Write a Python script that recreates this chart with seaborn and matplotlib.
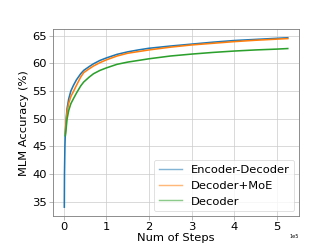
import numpy as np
import pandas as pd
import seaborn as sns
import matplotlib
matplotlib.use("Agg")
import matplotlib.pyplot as plt

# steps (x1e5) and accuracy values
steps_ed = [0.016, 0.02, 0.03, 0.04, 0.06, 0.08, 0.12, 0.17, 0.23, 0.3, 0.4, 0.47, 0.6, 0.7, 0.85, 1.0, 1.25, 1.5, 1.75, 2.0, 2.5, 3.0, 3.5, 4.0, 4.5, 5.0, 5.25]
acc_ed = [34.0, 40.0, 45.0, 47.5, 50.0, 51.8, 53.6, 55.0, 56.0, 57.0, 58.1, 58.7, 59.4, 59.9, 60.5, 60.95, 61.6, 62.05, 62.4, 62.7, 63.1, 63.45, 63.8, 64.1, 64.3, 64.5, 64.6]

steps_moe = [0.04, 0.06, 0.08, 0.12, 0.17, 0.23, 0.3, 0.4, 0.47, 0.6, 0.7, 0.85, 1.0, 1.25, 1.5, 1.75, 2.0, 2.5, 3.0, 3.5, 4.0, 4.5, 5.0, 5.25]
acc_moe = [47.3, 49.6, 51.2, 52.8, 54.0, 54.9, 56.0, 57.5, 58.3, 59.0, 59.5, 60.1, 60.6, 61.3, 61.8, 62.1, 62.4, 62.9, 63.3, 63.6, 63.9, 64.15, 64.35, 64.45]

steps_dec = [0.04, 0.06, 0.08, 0.12, 0.17, 0.23, 0.3, 0.4, 0.47, 0.6, 0.7, 0.85, 1.0, 1.25, 1.5, 1.75, 2.0, 2.5, 3.0, 3.5, 4.0, 4.5, 5.0, 5.25]
acc_dec = [46.9, 48.3, 49.9, 51.5, 52.7, 53.6, 54.6, 55.9, 56.6, 57.5, 58.1, 58.7, 59.15, 59.8, 60.2, 60.5, 60.8, 61.3, 61.65, 61.95, 62.2, 62.4, 62.55, 62.65]

labels = ["Encoder-Decoder", "Decoder+MoE", "Decoder"]
colors = ["#1f77b4", "#ff7f0e", "#2ca02c"]

frames = []
for lab, s, a in [(labels[0], steps_ed, acc_ed), (labels[1], steps_moe, acc_moe), (labels[2], steps_dec, acc_dec)]:
    frames.append(pd.DataFrame({"step": np.array(s) * 1e5, "acc": a, "model": lab}))
df = pd.concat(frames, ignore_index=True)

plt.rcParams["font.family"] = ["DejaVu Sans"]

fig = plt.figure(figsize=(6.4, 4.8), dpi=51.9)
ax = fig.add_axes([0.16, 0.134, 0.74, 0.748])
sns.lineplot(data=df, x="step", y="acc", hue="model", hue_order=labels,
             palette=colors, linewidth=2.2, ax=ax, estimator=None, sort=True)

FS = 16
ax.set_xlabel("Num of Steps", fontsize=FS, labelpad=2)
ax.set_ylabel("MLM Accuracy (%)", fontsize=FS, labelpad=4)
ax.tick_params(axis="both", labelsize=FS, length=5, color="#888888", direction="out",
               labelcolor="black")
ax.set_yticks([35, 40, 45, 50, 55, 60, 65])
ax.ticklabel_format(axis="x", style="sci", scilimits=(0, 0))
ax.xaxis.get_offset_text().set_fontsize(7)
for sp in ax.spines.values():
    sp.set_color("#808080")
    sp.set_linewidth(1.2)
ax.grid(True, color="#cccccc", linewidth=1.0)
ax.set_axisbelow(True)

leg = ax.legend(loc="lower right", fontsize=FS, frameon=True, handlelength=2.0,
                borderaxespad=0.4)
for h in leg.get_lines():
    h.set_alpha(0.55)
    h.set_linewidth(2)
leg.get_frame().set_edgecolor("#cccccc")

fig.savefig("out.png", dpi=51.9)
